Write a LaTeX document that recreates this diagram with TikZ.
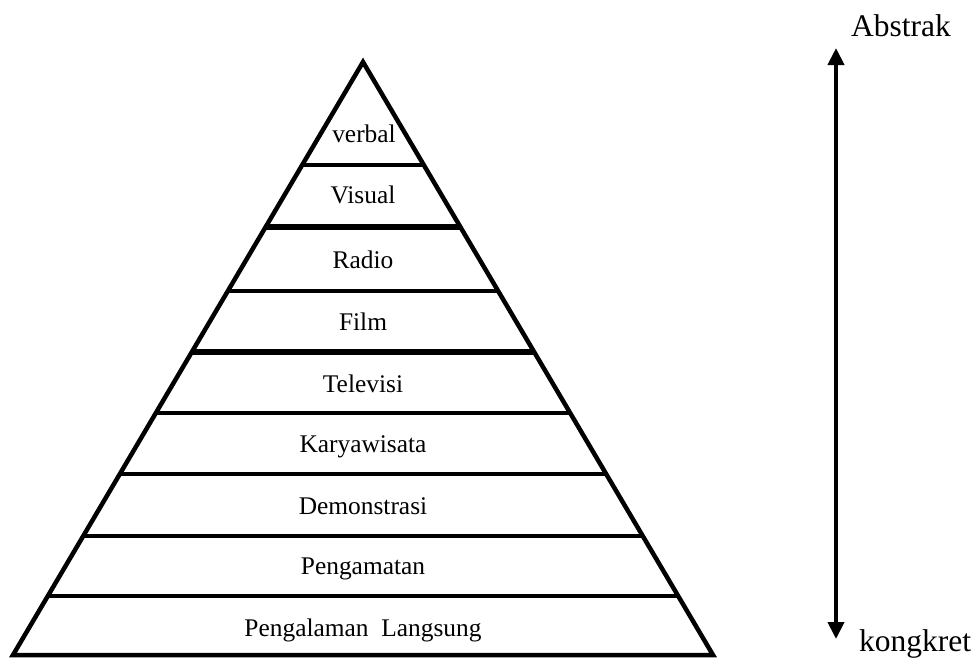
\documentclass[tikz,border=0pt]{standalone}
\usepackage{fontspec}
\setmainfont{Liberation Serif}
\usetikzlibrary{arrows.meta,calc}
\begin{document}
\begin{tikzpicture}[x=1pt,y=-1pt,
  edge/.style={line width=4.5pt,line join=miter},
  thickedge/.style={line width=6pt},
  layer/.style={anchor=base,inner sep=0pt,font=\fontsize{25.4}{30}\selectfont},
  side/.style={anchor=base,inner sep=0pt,font=\fontsize{31.5}{36}\selectfont},
  axis/.style={line width=4pt,{Triangle[width=16pt,length=17pt]}-{Triangle[width=16pt,length=17pt]}}]
\useasboundingbox (0,0) rectangle (977,659);
\coordinate (apex) at (363,62);
\coordinate (bl) at (13,655);
\coordinate (br) at (713,655);
\draw[edge] (bl) -- (apex) -- (br) -- cycle;
\foreach \t/\w [count=\i] in {0.1737/4.5, 0.2782/6, 0.3862/4.5, 0.4890/6, 0.5919/4.5, 0.6948/4.5, 0.7993/4.5, 0.9005/4.5}{
  \coordinate (l\i) at ($(apex)!\t!(bl)$);
  \coordinate (r\i) at ($(apex)!\t!(br)$);
  \draw[line width=\w pt] (l\i) -- (r\i);
}
\node[layer] (n1) at (364,142) {verbal};
\node[layer] (n2) at (363,203) {Visual};
\node[layer] (n3) at (363,268) {Radio};
\node[layer] (n4) at (363,330) {Film};
\node[layer] (n5) at (363,392) {Televisi};
\node[layer] (n6) at (363,452) {Karyawisata};
\node[layer] (n7) at (363,514) {Demonstrasi};
\node[layer] (n8) at (363,574) {Pengamatan};
\node[layer] (n9) at (363,636) {Pengalaman\ \ Langsung};
\coordinate (top) at (836,48);
\coordinate (bot) at (836,639);
\draw[axis] (top) -- (bot);
\node[side,anchor=base west] (abs) at (851,36) {Abstrak};
\node[side,anchor=base west] (kon) at (859,651) {kongkret};
\end{tikzpicture}
\end{document}
